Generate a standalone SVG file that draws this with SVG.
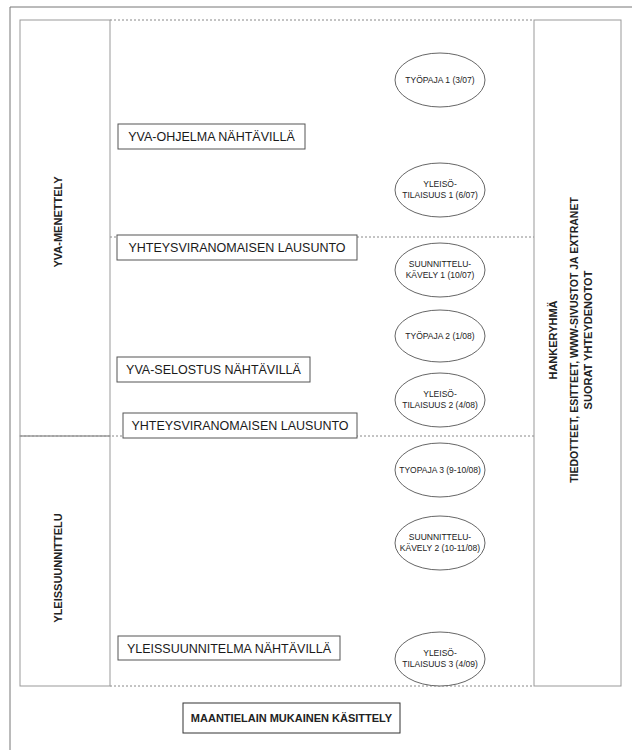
<svg xmlns="http://www.w3.org/2000/svg" width="632" height="750" viewBox="0 0 632 750">
<style>
.bg{fill:#fff}
.frame{fill:none;stroke:#777;stroke-width:1}
.col{fill:none;stroke:#999;stroke-width:1}
.dash{fill:none;stroke:#888;stroke-width:1;stroke-dasharray:2 2}
.box{fill:#fff;stroke:#555;stroke-width:1}
.ell{fill:#fff;stroke:#666;stroke-width:1}
.bt{font-family:"Liberation Sans",Arial,sans-serif;font-size:12.5px;fill:#1a1a1a;text-anchor:middle}
.et{font-family:"Liberation Sans",Arial,sans-serif;font-size:8.5px;fill:#222;text-anchor:middle}
.ht{font-family:"Liberation Sans",Arial,sans-serif;font-size:11px;font-weight:bold;fill:#222;text-anchor:middle}
</style>
<rect class="bg" x="0" y="0" width="632" height="750"/>
<path class="frame" d="M10,752 V7 H634"/>
<g id="connectors">
<line class="dash" x1="110" y1="20" x2="534" y2="20"/>
<line class="dash" x1="357" y1="237" x2="534" y2="237"/>
<line class="dash" x1="110" y1="237" x2="117" y2="237"/>
<line class="dash" x1="20" y1="436" x2="534" y2="436"/>
<line class="dash" x1="110" y1="686" x2="534" y2="686"/>
</g>
<g id="yva-menettely">
<rect class="col" x="20" y="20" width="90" height="416"/>
<text class="ht" transform="translate(62,222) rotate(-90)">YVA-MENETTELY</text>
</g>
<g id="yleissuunnittelu">
<rect class="col" x="20" y="436" width="90" height="250"/>
<text class="ht" transform="translate(62,568) rotate(-90)">YLEISSUUNNITTELU</text>
</g>
<g id="hankeryhma">
<rect class="col" x="534" y="20" width="87" height="666"/>
<text class="ht" transform="translate(557,340) rotate(-90)">HANKERYHMÄ</text>
<text class="ht" style="font-size:10.5px" transform="translate(578,340) rotate(-90)">TIEDOTTEET, ESITTEET, WWW-SIVUSTOT JA EXTRANET</text>
<text class="ht" transform="translate(592,340) rotate(-90)">SUORAT YHTEYDENOTOT</text>
</g>
<g id="yva-ohjelma">
<rect class="box" x="118" y="124" width="187" height="25"/>
<text class="bt" x="211.5" y="141">YVA-OHJELMA NÄHTÄVILLÄ</text>
</g>
<g id="lausunto1">
<rect class="box" x="117" y="235" width="240" height="25"/>
<text class="bt" x="237" y="252">YHTEYSVIRANOMAISEN LAUSUNTO</text>
</g>
<g id="yva-selostus">
<rect class="box" x="117" y="357" width="193" height="25"/>
<text class="bt" x="213.5" y="374">YVA-SELOSTUS NÄHTÄVILLÄ</text>
</g>
<g id="lausunto2">
<rect class="box" x="123" y="413" width="234" height="25"/>
<text class="bt" x="240" y="430">YHTEYSVIRANOMAISEN LAUSUNTO</text>
</g>
<g id="yleissuunnitelma">
<rect class="box" x="118" y="636" width="222" height="24"/>
<text class="bt" x="229" y="652.5">YLEISSUUNNITELMA NÄHTÄVILLÄ</text>
</g>
<g id="tyopaja1">
<ellipse class="ell" cx="440" cy="80" rx="45" ry="27"/>
<text class="et" x="440" y="83">TYÖPAJA 1 (3/07)</text>
</g>
<g id="yleisotilaisuus1">
<ellipse class="ell" cx="440" cy="190" rx="45" ry="27"/>
<text class="et" x="440" y="187">YLEISÖ-</text>
<text class="et" x="440" y="198">TILAISUUS 1 (6/07)</text>
</g>
<g id="suunnittelukavely1">
<ellipse class="ell" cx="440" cy="270" rx="45" ry="27"/>
<text class="et" x="440" y="267">SUUNNITTELU-</text>
<text class="et" x="440" y="278">KÄVELY 1 (10/07)</text>
</g>
<g id="tyopaja2">
<ellipse class="ell" cx="440" cy="336" rx="45" ry="26"/>
<text class="et" x="440" y="339">TYÖPAJA 2 (1/08)</text>
</g>
<g id="yleisotilaisuus2">
<ellipse class="ell" cx="440" cy="400" rx="45" ry="27"/>
<text class="et" x="440" y="397">YLEISÖ-</text>
<text class="et" x="440" y="408">TILAISUUS 2 (4/08)</text>
</g>
<g id="tyopaja3">
<ellipse class="ell" cx="440" cy="470" rx="45" ry="27"/>
<text class="et" x="440" y="473">TYOPAJA 3 (9-10/08)</text>
</g>
<g id="suunnittelukavely2">
<ellipse class="ell" cx="440" cy="543" rx="45" ry="27"/>
<text class="et" x="440" y="540">SUUNNITTELU-</text>
<text class="et" x="440" y="551">KÄVELY 2 (10-11/08)</text>
</g>
<g id="yleisotilaisuus3">
<ellipse class="ell" cx="440" cy="659" rx="45" ry="27"/>
<text class="et" x="440" y="656">YLEISÖ-</text>
<text class="et" x="440" y="667">TILAISUUS 3 (4/09)</text>
</g>
<g id="maantielain">
<rect class="box" x="183" y="703" width="217" height="30" style="stroke:#333"/>
<text class="ht" x="291.5" y="722">MAANTIELAIN MUKAINEN KÄSITTELY</text>
</g>
</svg>
